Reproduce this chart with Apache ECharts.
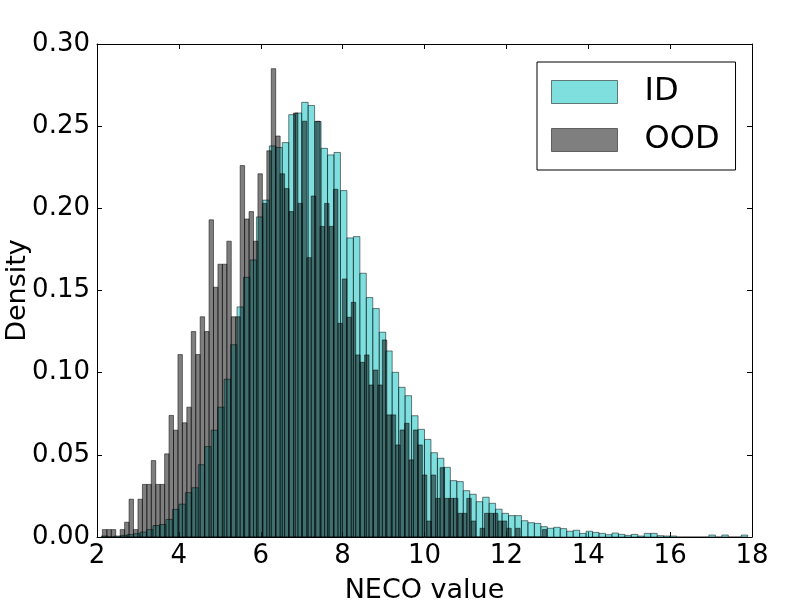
<!DOCTYPE html>
<html>
<head>
<meta charset="utf-8">
<script src="https://cdn.jsdelivr.net/npm/echarts@6/dist/echarts.min.js"></script>
<style>
  html, body { margin: 0; padding: 0; background: #fff; }
  #chart { width: 800px; height: 600px; }
</style>
</head>
<body>
<div id="chart"></div>
<script>
// histogram bins: first left edge and bin width (NECO value units)
const idStart = 2.105;
const idWidth = 0.1579;
const oodStart = 2.132;
const oodWidth = 0.10855;

// density per bin
const idDensity = [
  0.0006, 0, 0.0006, 0.001, 0.0015, 0.002, 0.003, 0.0045, 0.007, 0.0076,
  0.0107, 0.0168, 0.020, 0.027, 0.030, 0.044, 0.055, 0.065, 0.079, 0.096,
  0.117, 0.140, 0.158, 0.1686, 0.1948, 0.205, 0.238, 0.237, 0.240, 0.257,
  0.258, 0.2645, 0.2626, 0.2528, 0.2365, 0.2325, 0.234, 0.2108, 0.182, 0.1828,
  0.1605, 0.1457, 0.139, 0.1246, 0.1132, 0.1002, 0.0911, 0.086, 0.0738, 0.0655,
  0.0594, 0.0513, 0.0479, 0.0424, 0.0343, 0.0337, 0.0282, 0.026, 0.0215, 0.0242,
  0.0205, 0.0169, 0.0144, 0.013, 0.013, 0.0099, 0.0087, 0.0083, 0.0063, 0.0053,
  0.0059, 0.0051, 0.0035, 0.0041, 0.0022, 0.0035, 0.0028, 0.0022, 0.0014, 0.0024,
  0.0016, 0.001, 0.0016, 0.0006, 0.0022, 0.0022, 0.0008, 0.0006, 0.0006, 0,
  0, 0, 0, 0, 0.0012, 0, 0.0012, 0, 0, 0.0012
];

const oodDensity = [
  0.0045, 0.0045, 0.0045, 0, 0.0045, 0.009, 0.023, 0.0045, 0.023, 0.032,
  0.032, 0.0465, 0.032, 0.032, 0.0506, 0.074, 0.065, 0.111, 0.0695, 0.079,
  0.125, 0.111, 0.134, 0.125, 0.193, 0.152, 0.166, 0.166, 0.180, 0.134,
  0.134, 0.226, 0.1935, 0.198, 0.180, 0.221, 0.203, 0.235, 0.285, 0.244,
  0.221, 0.212, 0.198, 0.258, 0.203, 0.253, 0.170, 0.2075, 0.253, 0.189,
  0.203, 0.189, 0.2116, 0.130, 0.157, 0.1337, 0.1428, 0.1108, 0.1063, 0.1108,
  0.0925, 0.1016, 0.0925, 0.1199, 0.0743, 0.0743, 0.056, 0.0651, 0.0692, 0.0469,
  0.0651, 0.056, 0.0377, 0.0097, 0.0377, 0.0235, 0.0422, 0.0235, 0.0235, 0.0235,
  0.0144, 0.0144, 0.0235, 0.0097, 0, 0.0053, 0.0144, 0.0144, 0.0144, 0.0097,
  0.0097, 0.0053, 0, 0.0053, 0, 0, 0, 0, 0, 0.0045
];

const xTicks = { min: 2, max: 18, interval: 2 };
const yTicks = { min: 0, max: 0.3, interval: 0.05 };

const FONT = 'DejaVu Sans';
const ID_FILL = 'rgba(0,191,191,0.5)';
const OOD_FILL = 'rgba(0,0,0,0.5)';
const EDGE = 'rgba(0,0,0,0.5)';

function toBins(start, width, values) {
  return values.map((d, i) => [start + i * width, start + (i + 1) * width, d]);
}

function renderBar(params, api) {
  const topLeft = api.coord([api.value(0), api.value(2)]);
  const bottomRight = api.coord([api.value(1), 0]);
  return {
    type: 'rect',
    shape: {
      x: topLeft[0],
      y: topLeft[1],
      width: bottomRight[0] - topLeft[0],
      height: bottomRight[1] - topLeft[1]
    },
    style: api.style()
  };
}

const tickStyle = { inside: true, length: 5, lineStyle: { color: '#000', width: 1 } };
const lineStyle = { show: true, onZero: false, lineStyle: { color: '#000', width: 1 } };

const chart = echarts.init(document.getElementById('chart'), null, { renderer: 'canvas' });

chart.setOption({
  animation: false,
  backgroundColor: '#fff',
  textStyle: { fontFamily: FONT },
  grid: { left: 97, right: 48, top: 44, bottom: 63, containLabel: false, outerBoundsMode: 'none' },
  xAxis: [
    {
      type: 'value', ...xTicks, position: 'bottom',
      name: 'NECO value', nameLocation: 'middle', nameGap: 40,
      nameTextStyle: { fontFamily: FONT, fontSize: 27, color: '#000' },
      axisLine: lineStyle, axisTick: tickStyle, splitLine: { show: false },
      axisLabel: { fontFamily: FONT, fontSize: 26, color: '#000', margin: 6 }
    },
    {
      type: 'value', ...xTicks, position: 'top',
      axisLine: lineStyle, axisTick: tickStyle, splitLine: { show: false },
      axisLabel: { show: false }
    }
  ],
  yAxis: [
    {
      type: 'value', ...yTicks, position: 'left',
      name: 'Density', nameLocation: 'middle', nameGap: 66, nameMoveOverlap: false,
      nameTextStyle: { fontFamily: FONT, fontSize: 27, color: '#000' },
      axisLine: lineStyle, axisTick: tickStyle, splitLine: { show: false },
      axisLabel: {
        fontFamily: FONT, fontSize: 26, color: '#000', margin: 7,
        formatter: v => v.toFixed(2)
      }
    },
    {
      type: 'value', ...yTicks, position: 'right',
      axisLine: lineStyle, axisTick: tickStyle, splitLine: { show: false },
      axisLabel: { show: false }
    }
  ],
  legend: {
    orient: 'vertical',
    left: 537,
    top: 62,
    padding: [14, 16, 14, 14],
    itemGap: 16,
    itemWidth: 66,
    itemHeight: 23,
    backgroundColor: '#fff',
    borderColor: '#000',
    borderWidth: 1,
    borderRadius: 0,
    textStyle: { fontFamily: FONT, fontSize: 32, color: '#000', lineHeight: 23, padding: [0, 0, 0, 22] },
    data: [
      { name: 'ID', icon: 'rect', itemStyle: { color: ID_FILL, borderColor: EDGE, borderWidth: 1 } },
      { name: 'OOD', icon: 'rect', itemStyle: { color: OOD_FILL, borderColor: EDGE, borderWidth: 1 } }
    ]
  },
  series: [
    {
      name: 'ID',
      type: 'custom',
      renderItem: renderBar,
      encode: { x: [0, 1], y: 2 },
      itemStyle: { color: ID_FILL, borderColor: EDGE, borderWidth: 1 },
      data: toBins(idStart, idWidth, idDensity)
    },
    {
      name: 'OOD',
      type: 'custom',
      renderItem: renderBar,
      encode: { x: [0, 1], y: 2 },
      itemStyle: { color: OOD_FILL, borderColor: EDGE, borderWidth: 1 },
      data: toBins(oodStart, oodWidth, oodDensity)
    }
  ]
});
</script>
</body>
</html>
